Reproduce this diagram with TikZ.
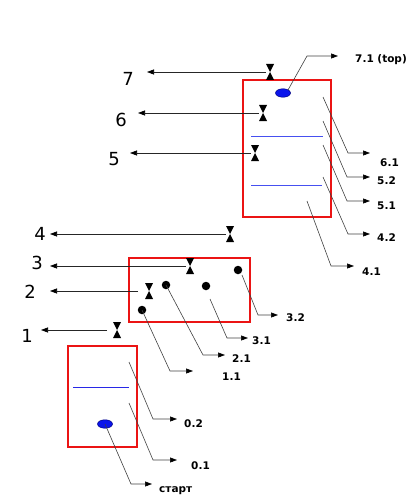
\documentclass[tikz,border=0pt]{standalone}
\usepackage{fontspec}
\setmainfont{DejaVu Sans}
\usetikzlibrary{arrows.meta,shapes.geometric}
\definecolor{boxred}{RGB}{235,20,20}
\definecolor{lineblue}{RGB}{70,80,240}
\definecolor{lowblue}{RGB}{40,40,230}
\definecolor{dotblue}{RGB}{10,20,235}
\tikzset{
  frame/.style={draw=boxred, line width=1.4pt},
  hglass/.style={inner sep=0pt, minimum width=8pt, minimum height=16pt,
    path picture={\fill[black] (path picture bounding box.north west) -- (path picture bounding box.north east)
      -- (path picture bounding box.south west) -- (path picture bounding box.south east) -- cycle;}},
  pt/.style={circle, fill=black, inner sep=0pt, minimum size=8.5pt},
  oval/.style={ellipse, fill=dotblue, draw=blue!50!black, line width=0.5pt, inner sep=0pt, minimum width=15pt, minimum height=8.5pt},
  numarr/.style={draw=black!85, line width=0.7pt, -{Triangle[length=7pt,width=5pt,black]}},
  lead/.style={draw=black!75, line width=0.6pt, -{Triangle[length=7pt,width=5pt,black]}},
  num/.style={font=\fontsize{18}{18}\selectfont, inner sep=0pt},
  tag/.style={font=\fontsize{10.5}{11}\selectfont\bfseries, inner sep=0pt, anchor=west},
  sep/.style={line width=0.9pt}
}
\begin{document}
\begin{tikzpicture}[x=1pt,y=-1pt]
\useasboundingbox (0,0) rectangle (412,500);
% boxes
\draw[frame] (243,80) rectangle (331,217);
\draw[frame] (129,258) rectangle (250,322);
\draw[frame] (68,346) rectangle (137,447);
% separator lines
\draw[sep, lineblue] (251,136) -- (323,136);
\draw[sep, lineblue] (251,185) -- (322,185);
\draw[sep, lowblue] (73,387) -- (129,387);
% ellipses
\node[oval] (e7) at (283,93) {};
\node[oval] (e0) at (105,424) {};
% hourglasses
\node[hglass] (h7) at (270,72) {};
\node[hglass] (h6) at (263,113) {};
\node[hglass] (h5) at (255,153) {};
\node[hglass] (h4) at (230,234) {};
\node[hglass] (h3) at (190,266) {};
\node[hglass] (h2) at (149,291) {};
\node[hglass] (h1) at (117,330) {};
% dots
\node[pt] (d11) at (142,310) {};
\node[pt] (d21) at (166,285) {};
\node[pt] (d31) at (206,286) {};
\node[pt] (d32) at (238,270) {};
% number arrows
\coordinate (a7) at (147,72);
\coordinate (a6) at (138,113);
\coordinate (a5) at (130,153);
\coordinate (a4) at (50,234);
\coordinate (a3) at (50,266);
\coordinate (a2) at (50,291);
\coordinate (a1) at (41,330);
\coordinate (f2) at (138,291);
\coordinate (f1) at (107,330);
\draw[numarr] (h7.west) -- (a7);
\draw[numarr] (h6.west) -- (a6);
\draw[numarr] (h5.west) -- (a5);
\draw[numarr] (h4.west) -- (a4);
\draw[numarr] (h3.west) -- (a3);
\draw[numarr] (f2) -- (a2);
\draw[numarr] (f1) -- (a1);
\node[num] (n7) at (128,79) {7};
\node[num] (n6) at (121,120) {6};
\node[num] (n5) at (114,159) {5};
\node[num] (n4) at (40,234) {4};
\node[num] (n3) at (37,263) {3};
\node[num] (n2) at (30,292) {2};
\node[num] (n1) at (27,336) {1};
% leader lines
\coordinate (s71) at (288,90);  \coordinate (b71) at (307,56);  \coordinate (t71) at (338,56);
\coordinate (s61) at (323,97);  \coordinate (b61) at (348,153); \coordinate (t61) at (370,153);
\coordinate (s52) at (323,121); \coordinate (b52) at (347,177); \coordinate (t52) at (370,177);
\coordinate (s51) at (323,145); \coordinate (b51) at (347,201); \coordinate (t51) at (370,201);
\coordinate (s42) at (323,177); \coordinate (b42) at (348,234); \coordinate (t42) at (370,234);
\coordinate (s41) at (307,201); \coordinate (b41) at (331,266); \coordinate (t41) at (354,266);
\coordinate (s32) at (242,275); \coordinate (b32) at (258,315); \coordinate (t32) at (278,315);
\coordinate (s31) at (210,299); \coordinate (b31) at (227,338); \coordinate (t31) at (248,338);
\coordinate (b21) at (203,355); \coordinate (t21) at (225,355);
\coordinate (b11) at (170,371); \coordinate (t11) at (193,371);
\coordinate (s02) at (129,362); \coordinate (b02) at (153,419); \coordinate (t02) at (177,419);
\coordinate (s01) at (129,403); \coordinate (b01) at (153,460); \coordinate (t01) at (177,460);
\coordinate (bst) at (131,484); \coordinate (tst) at (152,484);
\draw[lead] (s71) -- (b71) -- (t71);
\draw[lead] (s61) -- (b61) -- (t61);
\draw[lead] (s52) -- (b52) -- (t52);
\draw[lead] (s51) -- (b51) -- (t51);
\draw[lead] (s42) -- (b42) -- (t42);
\draw[lead] (s41) -- (b41) -- (t41);
\draw[lead] (s32) -- (b32) -- (t32);
\draw[lead] (s31) -- (b31) -- (t31);
\draw[lead] (d21.center) -- (b21) -- (t21);
\draw[lead] (d11.center) -- (b11) -- (t11);
\draw[lead] (s02) -- (b02) -- (t02);
\draw[lead] (s01) -- (b01) -- (t01);
\draw[lead] (e0.center) -- (bst) -- (tst);
% tags
\node[tag] (l71) at (355,60) {7.1 (top)};
\node[tag] (l61) at (380,163) {6.1};
\node[tag] (l52) at (377,181) {5.2};
\node[tag] (l51) at (377,206) {5.1};
\node[tag] (l42) at (377,238) {4.2};
\node[tag] (l41) at (362,272) {4.1};
\node[tag] (l32) at (286,318) {3.2};
\node[tag] (l31) at (252,341) {3.1};
\node[tag] (l21) at (232,359) {2.1};
\node[tag] (l11) at (222,377) {1.1};
\node[tag] (l02) at (184,424) {0.2};
\node[tag] (l01) at (191,466) {0.1};
\node[tag] (lst) at (159,491) {старт};
\end{tikzpicture}
\end{document}
